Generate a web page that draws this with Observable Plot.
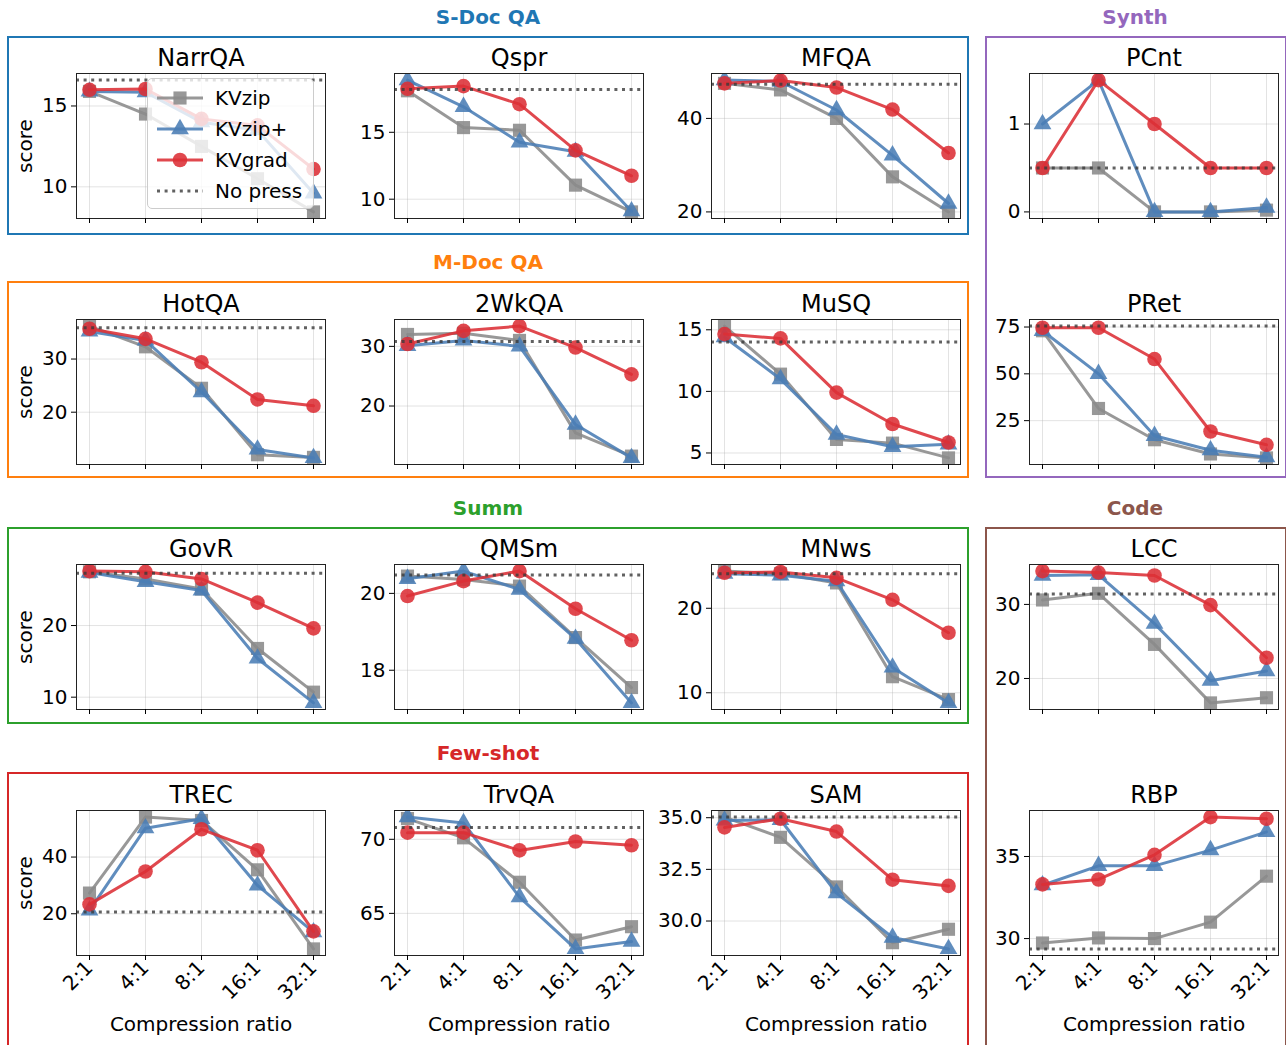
<!DOCTYPE html>
<html><head><meta charset="utf-8">
<script src="https://cdn.jsdelivr.net/npm/d3@7"></script>
<script src="https://cdn.jsdelivr.net/npm/@observablehq/plot@0.6"></script>
<style>
body{margin:0;background:#fff;font-family:"DejaVu Sans",sans-serif;}
#fig{position:relative;width:1286px;height:1045px;overflow:hidden;background:#fff;}
.group{position:absolute;border:2px solid;box-sizing:border-box;}
.gtitle{position:absolute;font-weight:bold;font-size:20px;transform:translate(-50%,-50%);white-space:nowrap;}
.panel{position:absolute;}
.legend{position:absolute;border:1px solid #cccccc;border-radius:5px;background:rgba(255,255,255,0.8);box-sizing:border-box;}
.litem{position:absolute;left:0;display:flex;align-items:center;font-size:20px;color:#000;white-space:nowrap;}
</style></head><body><div id="fig"></div>
<script>
const ratios = ["2:1","4:1","8:1","16:1","32:1"];
const methods = ["KVzip","KVzip+","KVgrad"];
const tasks = ["NarrQA","Qspr","MFQA","PCnt","HotQA","2WkQA","MuSQ","PRet","GovR","QMSm","MNws","LCC","TREC","TrvQA","SAM","RBP"];

const kvzip = [
  [15.9, 14.5, 12.5, 10.5, 8.45],
  [18.1, 15.35, 15.15, 11.05, 9.05],
  [47.5, 46.1, 40.0, 27.5, 20.0],
  [0.5, 0.5, 0, 0, 0.02],
  [36.2, 32.3, 24.5, 12.0, 11.5],
  [32.0, 32.2, 31.0, 15.5, 11.6],
  [15.3, 11.4, 6.1, 5.8, 4.6],
  [73.0, 31.5, 14.8, 7.2, 5.1],
  [27.5, 26.5, 25.1, 16.8, 10.7],
  [20.45, 20.36, 20.19, 18.85, 17.55],
  [24.4, 24.1, 23.0, 11.9, 9.2],
  [30.6, 31.5, 24.6, 16.7, 17.4],
  [27.3, 54.1, 52.9, 35.5, 7.6],
  [71.4, 70.1, 67.1, 63.2, 64.1],
  [35.03, 34.05, 31.65, 28.95, 29.6],
  [29.73, 30.04, 30.0, 31.0, 33.8]
];
const kvzipPlus = [
  [15.9, 15.85, 14.0, 13.5, 9.6],
  [18.9, 16.9, 14.25, 13.55, 9.1],
  [48.2, 47.9, 41.8, 32.1, 21.8],
  [1.0, 1.5, 0, 0, 0.05],
  [35.2, 33.5, 23.8, 13.0, 11.4],
  [30.1, 31.0, 30.0, 16.9, 11.3],
  [14.4, 11.0, 6.5, 5.5, 5.7],
  [73.0, 50.0, 16.9, 9.2, 5.5],
  [27.4, 26.1, 24.9, 15.4, 9.2],
  [20.38, 20.58, 20.1, 18.82, 17.15],
  [24.1, 23.9, 23.2, 13.0, 8.8],
  [33.9, 34.0, 27.4, 19.7, 21.0],
  [21.2, 50.2, 53.5, 30.0, 13.5],
  [71.5, 71.1, 66.1, 62.6, 63.1],
  [34.87, 34.9, 31.35, 29.2, 28.65],
  [33.25, 34.43, 34.43, 35.39, 36.5]
];
const kvgrad = [
  [16.0, 16.05, 14.2, 13.8, 11.1],
  [18.25, 18.45, 17.1, 13.65, 11.75],
  [47.5, 48.1, 46.6, 41.9, 32.6],
  [0.5, 1.5, 1.0, 0.5, 0.5],
  [35.7, 33.8, 29.4, 22.4, 21.2],
  [30.4, 32.6, 33.4, 29.8, 25.3],
  [14.65, 14.3, 9.9, 7.35, 5.85],
  [74.6, 74.6, 57.9, 19.2, 12.1],
  [27.6, 27.5, 26.5, 23.2, 19.6],
  [19.93, 20.32, 20.58, 19.6, 18.78],
  [24.2, 24.3, 23.6, 21.0, 17.1],
  [34.5, 34.3, 33.9, 29.9, 22.8],
  [23.3, 34.9, 49.8, 42.4, 13.8],
  [70.45, 70.45, 69.25, 69.85, 69.6],
  [34.53, 34.95, 34.33, 32.0, 31.7],
  [33.3, 33.6, 35.1, 37.4, 37.3]
];
const noPress = [16.6, 18.2, 47.3, 0.5, 35.9, 30.8, 14.0, 75.5, 27.3, 20.48, 24.1, 31.4, 20.6, 70.8, 35.03, 29.37];
const yTicks = [
  [10,15],[10,15],[20,40],[0,1],
  [20,30],[20,30],[5,10,15],[25,50,75],
  [10,20],[18,20],[10,20],[20,30],
  [20,40],[65,70],[30.0,32.5,35.0],[30,35]
];
const groupNames = ["S-Doc QA","Synth","M-Doc QA","Summ","Code","Few-shot"];
const groupColors = ["#1f77b4","#9467bd","#ff7f0e","#2ca02c","#8c564b","#d62728"];

const seriesVals = [kvzip, kvzipPlus, kvgrad];
const colors = {"KVzip":"#8a8a8a","KVzip+":"#4a7db5","KVgrad":"#dc2f36"};
const symbols = {"KVzip":"square","KVzip+":"triangle","KVgrad":"circle"};
const radii = {"KVzip":7.4,"KVzip+":6.6,"KVgrad":7.3};

const fig = document.getElementById("fig");

// group boxes (layout)
const groupBoxes = [
  {l:7,t:36,w:962,h:199,tx:488,ty:17},
  {l:985,t:36,w:302,h:442,tx:1135,ty:17},
  {l:7,t:281,w:962,h:197,tx:488,ty:262},
  {l:7,t:527,w:962,h:197,tx:488,ty:508},
  {l:985,t:527,w:302,h:560,tx:1135,ty:508},
  {l:7,t:772,w:962,h:300,tx:488,ty:753}
];
groupBoxes.forEach((g,k)=>{
  const b = document.createElement("div");
  b.className="group";
  Object.assign(b.style,{left:g.l+"px",top:g.t+"px",width:g.w+"px",height:g.h+"px",borderColor:groupColors[k]});
  fig.appendChild(b);
  const t = document.createElement("div");
  t.className="gtitle";
  t.textContent = groupNames[k];
  Object.assign(t.style,{left:g.tx+"px",top:g.ty+"px",color:groupColors[k]});
  fig.appendChild(t);
});

const frameW = 249, frameH = 145;
const colX = [76, 394, 711, 1029];
const rowY = [73, 318.5, 564, 809.5];

tasks.forEach((task,i)=>{
  const row = Math.floor(i/4), col = i%4;
  const data = methods.flatMap((m,k)=>ratios.map((r,j)=>({method:m, ratio:r, score:seriesVals[k][i][j]})));
  const all = data.map(d=>d.score).concat([noPress[i]]);
  const lo = d3.min(all), hi = d3.max(all), pad = (hi-lo)*0.05;
  const mL = 66, mR = 10, mT = 45, mB = row===3 ? 100 : 12;
  const ticks = yTicks[i];
  const fmt = ticks.some(t=>!Number.isInteger(t)) ? d3.format(".1f") : d3.format("d");
  const marks = [
    Plot.gridX(ratios, {stroke:"#b0b0b0", strokeOpacity:0.35, strokeWidth:1}),
    Plot.gridY(ticks, {stroke:"#b0b0b0", strokeOpacity:0.35, strokeWidth:1})
  ];
  methods.forEach(m=>{
    const d = data.filter(e=>e.method===m);
    marks.push(Plot.line(d, {x:"ratio", y:"score", stroke:colors[m], strokeWidth:3, strokeOpacity:0.88, clip:true}));
    marks.push(Plot.dot(d, {x:"ratio", y:"score", symbol:()=>symbols[m], fill:colors[m], fillOpacity:0.88, stroke:"none", r:radii[m], clip:true}));
  });
  marks.push(Plot.ruleY([noPress[i]], {stroke:"#3a3a3a", strokeWidth:3, strokeDasharray:"3,4.6", strokeOpacity:0.8}));
  marks.push(Plot.frame({stroke:"#222", strokeWidth:1}));
  marks.push(Plot.axisY(ticks, {tickSize:5, tickPadding:4, tickFormat:fmt, fontSize:20,
    label: col===0 ? "score" : null, labelAnchor:"center", labelArrow:"none", labelOffset:59}));
  marks.push(Plot.axisX(ratios, {tickSize:5, tickPadding:4, fontSize:20,
    tickRotate: row===3 ? -45 : 0,
    tickFormat: row===3 ? (d=>d) : (()=>""),
    label: row===3 ? "Compression ratio" : null, labelAnchor:"center", labelArrow:"none", labelOffset:75}));
  marks.push(Plot.text([task], {text:d=>d, frameAnchor:"top", lineAnchor:"middle", dy:-15, fontSize:24}));

  const plot = Plot.plot({
    width: mL+frameW+mR, height: mT+frameH+mB,
    marginLeft:mL, marginRight:mR, marginTop:mT, marginBottom:mB,
    style:{fontFamily:"DejaVu Sans", fontSize:"20px", background:"transparent", color:"#000", overflow:"visible"},
    x:{type:"point", domain:ratios, padding:0.2, label:null},
    y:{domain:[lo-pad, hi+pad], label:null},
    symbol:{type:"identity"},
    marks
  });
  plot.classList.add("panel");
  plot.style.position = "absolute";
  plot.style.left = (colX[col]-mL)+"px";
  plot.style.top = (rowY[row]-mT)+"px";
  fig.appendChild(plot);
});

// legend inside NarrQA
const legend = document.createElement("div");
legend.className = "legend";
Object.assign(legend.style,{left:"147px",top:"78px",width:"167px",height:"131px"});
fig.appendChild(legend);
const legendItems = methods.concat(["No press"]);
legendItems.forEach((name,k)=>{
  const item = document.createElement("div");
  item.className = "litem";
  item.style.top = (19 + k*31 - 12)+"px";
  item.style.height = "24px";
  const svg = d3.create("svg").attr("width",60).attr("height",24).style("margin-left","7px");
  if (name === "No press") {
    svg.append("line").attr("x1",2).attr("x2",48).attr("y1",12).attr("y2",12)
      .attr("stroke","#3a3a3a").attr("stroke-width",3).attr("stroke-dasharray","3,4.6").attr("stroke-opacity",0.8);
  } else {
    svg.append("line").attr("x1",2).attr("x2",48).attr("y1",12).attr("y2",12)
      .attr("stroke",colors[name]).attr("stroke-width",3).attr("stroke-opacity",0.88);
    const sym = {square:d3.symbolSquare, triangle:d3.symbolTriangle, circle:d3.symbolCircle}[symbols[name]];
    svg.append("path").attr("transform","translate(25,12)")
      .attr("d", d3.symbol(sym, Math.PI*radii[name]*radii[name])())
      .attr("fill",colors[name]).attr("fill-opacity",0.88);
  }
  item.appendChild(svg.node());
  const lab = document.createElement("span");
  lab.textContent = name;
  item.appendChild(lab);
  legend.appendChild(item);
});
</script></body></html>
